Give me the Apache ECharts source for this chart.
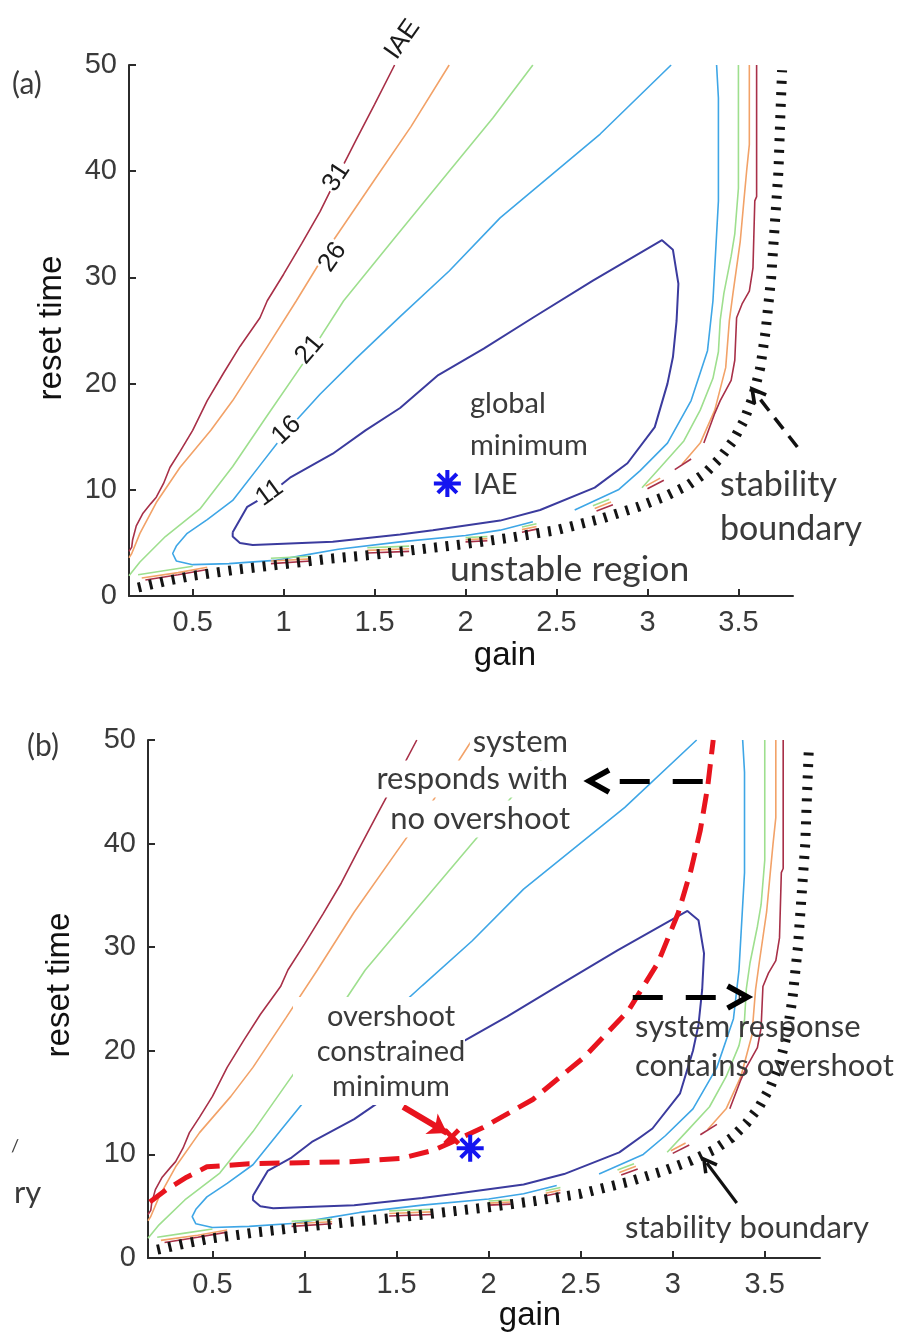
<!DOCTYPE html>
<html>
<head>
<meta charset="utf-8">
<script src="https://cdn.jsdelivr.net/npm/echarts@6/dist/echarts.min.js"></script>
<style>
  html, body { margin: 0; padding: 0; background: #fff; }
  #main { width: 902px; height: 1343px; }
</style>
</head>
<body>
<div id="main"></div>
<script>
// ---------------- data (gain, reset time) ----------------
const gainTicks = [0.5, 1, 1.5, 2, 2.5, 3, 3.5];
const resetTicks = [0, 10, 20, 30, 40, 50];
const iaeLevels = [11, 16, 21, 26, 31];

// IAE = 11 (closed loop around the optimum)
const iae11 = [
  [[0.72,6.0],[0.80,8.4],[0.93,9.7],[1.04,11.2],[1.27,13.4],[1.45,15.6],[1.64,17.7],[1.85,20.8],
   [2.10,23.3],[2.37,26.2],[2.70,29.7],[3.08,33.5],[3.14,32.6],[3.17,29.4],[3.16,25.9],[3.14,22.5],
   [3.11,20.0],[3.04,15.9],[2.89,12.5],[2.71,10.2],[2.41,8.1],[2.19,7.1],[1.82,6.2],[1.64,5.8],
   [1.27,5.1],[0.83,4.8],[0.76,5.0],[0.72,5.6],[0.72,6.0]]
];
// IAE = 16
const iae16 = [
  [[3.13,50],[2.74,43.5],[2.19,35.6],[1.91,30.6],[1.64,26.3],[1.40,22.4],[1.20,19.0],[1.02,15.6],
   [0.87,12.3],[0.72,9.0],[0.58,7.2],[0.47,5.9],[0.41,4.7],[0.39,4.0],[0.41,3.3],[0.50,2.95],
   [0.70,3.05],[0.95,3.35],[1.10,3.8],[1.30,4.4],[1.64,5.1],[2.00,5.7],[2.19,6.2],[2.37,7.0]],
  [[2.60,8.1],[2.84,10.0],[2.96,11.8],[3.11,14.4],[3.24,18.4],[3.33,23.1],[3.36,27.8],[3.39,37.2],
   [3.39,46.9],[3.38,50]]
];
// IAE = 21
const iae21 = [
  [[0.15,1.9],[0.21,3.2],[0.35,5.6],[0.54,8.2],[0.72,12.2],[0.91,17.0],[1.143,22.8],[1.33,27.8],
   [1.60,33.5],[1.91,40.0],[2.15,45.0],[2.37,50]],
  [[0.20,2.0],[0.35,2.4],[0.50,2.8]],
  [[0.93,3.55],[1.15,3.75]],
  [[1.46,4.55],[1.69,4.7]],
  [[2.00,5.5],[2.12,5.6]],
  [[2.31,6.5],[2.39,6.8]],
  [[2.70,8.5],[2.79,9.1]],
  [[2.97,10.2],[3.07,12.1],[3.20,14.6],[3.29,17.5],[3.36,20.5],[3.39,23.0],[3.40,26.0],[3.42,28.5],
   [3.46,32.0],[3.48,34.1],[3.50,38.4],[3.50,50]]
];
// IAE = 26
const iae26 = [
  [[0.15,3.6],[0.165,4.0],[0.21,5.9],[0.30,8.8],[0.43,12.1],[0.60,15.6],[0.72,18.4],[0.90,23.2],
   [1.07,27.8],[1.27,33.4],[1.50,39.2],[1.70,44.2],[1.91,50]],
  [[0.22,1.7],[0.42,2.2],[0.58,2.7]],
  [[0.93,3.3],[1.15,3.5]],
  [[1.46,4.3],[1.69,4.45]],
  [[2.00,5.3],[2.12,5.4]],
  [[2.31,6.25],[2.39,6.55]],
  [[2.71,8.25],[2.80,8.85]],
  [[2.99,10.35],[3.07,11.1]],
  [[3.19,12.4],[3.29,14.4],[3.37,17.5],[3.43,21.5],[3.45,25.9],[3.47,28.5],[3.51,33.4],[3.53,37.2],
   [3.545,40.0],[3.56,42.5],[3.56,50]]
];
// IAE = 31
const iae31 = [
  [[0.15,4.2],[0.165,4.6],[0.17,5.3],[0.19,6.6],[0.227,7.8],[0.27,8.7],[0.30,9.3],[0.34,10.6],
   [0.375,12.1],[0.43,13.6],[0.50,15.6],[0.58,18.4],[0.67,21.0],[0.76,23.5],[0.87,26.2],[0.91,27.8],
   [1.00,30.3],[1.10,33.2],[1.20,36.2],[1.29,39.3],[1.40,43.0],[1.50,46.3],[1.61,50]],
  [[0.24,1.5],[0.42,2.0],[0.58,2.5]],
  [[0.93,3.05],[1.15,3.3]],
  [[1.46,4.05],[1.69,4.2]],
  [[2.00,5.1],[2.12,5.2]],
  [[2.31,6.0],[2.39,6.3]],
  [[2.72,8.0],[2.81,8.6]],
  [[3.00,10.1],[3.09,10.9]],
  [[3.15,11.9],[3.24,12.9]],
  [[3.31,14.4],[3.37,17.2],[3.40,18.4],[3.46,20.3],[3.48,22.2],[3.49,26.2],[3.52,27.5],[3.56,28.7],
   [3.58,30.9],[3.59,37.2],[3.60,37.6],[3.60,50]]
];

// closed-loop stability limit
const stabilityBoundary = [
  [0.20,0.8],[0.35,1.4],[0.50,1.9],[0.75,2.5],[1.00,3.0],[1.25,3.5],[1.50,3.9],[1.75,4.4],[2.00,4.9],
  [2.25,5.5],[2.50,6.2],[2.75,7.3],[2.95,8.4],[3.10,9.4],[3.22,10.4],[3.32,11.6],[3.40,13.0],
  [3.47,14.6],[3.53,16.5],[3.58,18.8],[3.62,21.5],[3.65,25.0],[3.68,30.0],[3.70,35.0],[3.72,40.0],
  [3.73,45.0],[3.74,49.5]
];
// limit between overshoot-free and overshooting responses
const overshootLimit = [
  [0.16,5.4],[0.25,6.6],[0.36,7.8],[0.47,8.8],[0.70,9.1],[0.98,9.2],[1.25,9.3],[1.52,9.6],[1.70,10.4],
  [1.79,11.1],[1.97,12.6],[2.24,15.3],[2.52,19.4],[2.76,23.9],[2.92,28.5],[3.03,33.3],[3.10,37.5],
  [3.15,41.3],[3.19,45.5],[3.22,50]
];
const globalMinimum = [[1.90, 10.6]];
const constrainedMinimum = [[1.80, 11.7]];

// contour label anchors (panel a)
const contourLabels = [
  { text: '31', at: [1.291, 39.45], angle: 57 },
  { text: '26', at: [1.269, 31.9], angle: 55 },
  { text: '21', at: [1.143, 23.2], angle: 50 },
  { text: '16', at: [1.016, 15.6], angle: 43 },
  { text: '11', at: [0.923, 9.7], angle: 36 },
  { text: 'IAE', at: [1.654, 52.4], angle: 55 }
];

// annotation arrows: [panel, from, to]
const dashedArrows = [
  [0, [3.824, 14.03], [3.593, 19.11]],
  [1, [3.163, 46.04], [2.588, 46.04]],
  [1, [2.783, 25.19], [3.364, 25.19]]
];
const solidArrows = [[1, [3.348, 5.31], [3.185, 9.17]]];
const redArrows = [[1, [1.536, 14.58], [1.774, 12.07]]];

// ---------------- styling ----------------
const contourStyle = {
  11: { color: '#3b3b9e', width: 2 },
  16: { color: '#3ea6e6', width: 1.6 },
  21: { color: '#9edf8e', width: 1.6 },
  26: { color: '#f2a268', width: 1.6 },
  31: { color: '#a83048', width: 1.6 }
};
const contours = { 11: iae11, 16: iae16, 21: iae21, 26: iae26, 31: iae31 };

const axisColor = '#2b2b2b';
const tickFont = 'Liberation Sans';
const noteFont = 'Lato';
const chevron = 'path://M0,9 L5,0 L10,9 L8.2,10 L5,4.2 L1.8,10 Z';
const asterisk = 'path://M8.5,0 H11.5 V20 H8.5 Z M0,8.5 H20 V11.5 H0 Z ' +
  'M1.9,4.0 L4.0,1.9 L18.1,16.0 L16.0,18.1 Z M16.0,1.9 L18.1,4.0 L4.0,18.1 L1.9,16.0 Z';
const crossMark = 'path://M2,0 L5,3 L8,0 L10,2 L7,5 L10,8 L8,10 L5,7 L2,10 L0,8 L3,5 L0,2 Z';

const grids = [
  { left: 129, top: 65, width: 664, height: 531, outerBoundsMode: 'none', containLabel: false },
  { left: 148, top: 740, width: 672, height: 518, outerBoundsMode: 'none', containLabel: false }
];

function xAxisFor(i) {
  return {
    gridIndex: i, type: 'value', min: 0.15, max: 3.8,
    axisLine: { show: true, onZero: false, lineStyle: { color: axisColor, width: 2 } },
    axisTick: { show: true, inside: true, length: 7, customValues: gainTicks,
                lineStyle: { color: axisColor, width: 2 } },
    axisLabel: { show: true, customValues: gainTicks, margin: 12, fontFamily: tickFont,
                 fontSize: 29, color: '#3a3a3a' },
    splitLine: { show: false }
  };
}
function yAxisFor(i) {
  return {
    gridIndex: i, type: 'value', min: resetTicks[0], max: resetTicks[resetTicks.length - 1], interval: 10,
    axisLine: { show: true, onZero: false, lineStyle: { color: axisColor, width: 2 } },
    axisTick: { show: true, inside: true, length: 7, lineStyle: { color: axisColor, width: 2 } },
    axisLabel: { show: true, margin: 12, fontFamily: tickFont, fontSize: 29, color: '#3a3a3a' },
    splitLine: { show: false }
  };
}

const series = [];
[0, 1].forEach(p => {
  iaeLevels.forEach(lv => {
    contours[lv].forEach(seg => {
      series.push({
        type: 'line', xAxisIndex: p, yAxisIndex: p, data: seg,
        symbol: 'none', showSymbol: false, smooth: false, silent: true, z: 2,
        lineStyle: { color: contourStyle[lv].color, width: contourStyle[lv].width }
      });
    });
  });
  series.push({
    type: 'line', xAxisIndex: p, yAxisIndex: p, data: stabilityBoundary,
    symbol: 'none', showSymbol: false, silent: true, z: 3,
    lineStyle: { color: '#141414', width: 10, type: [3, 8.5], cap: 'butt' }
  });
  series.push({
    type: 'scatter', xAxisIndex: p, yAxisIndex: p, data: globalMinimum,
    symbol: asterisk, symbolSize: 27, silent: true, z: 6,
    itemStyle: { color: '#1414f0', opacity: 1 }
  });
});
// panel (b): overshoot limit and constrained optimum
series.push({
  type: 'line', xAxisIndex: 1, yAxisIndex: 1, data: overshootLimit,
  symbol: 'none', showSymbol: false, silent: true, z: 4,
  lineStyle: { color: '#e8141e', width: 5, type: [20, 10] }
});
series.push({
  type: 'scatter', xAxisIndex: 1, yAxisIndex: 1, data: constrainedMinimum,
  symbol: crossMark, symbolSize: 17, silent: true, z: 5,
  itemStyle: { color: '#e8141e', opacity: 1 }
});

function arrowSeries(list, style) {
  list.forEach(([p, from, to]) => {
    series.push({
      type: 'lines', coordinateSystem: 'cartesian2d', xAxisIndex: p, yAxisIndex: p,
      clip: false, silent: true, z: 7, polyline: false,
      symbol: ['none', style.head], symbolSize: style.headSize,
      lineStyle: { color: style.color, width: style.width, type: style.type, opacity: 1, curveness: 0 },
      data: [{ coords: [from, to] }]
    });
  });
}
arrowSeries(dashedArrows.filter(a => a[0] === 0), { head: chevron, headSize: 18, color: '#111', width: 3.5, type: [14, 9] });
arrowSeries(dashedArrows.filter(a => a[0] === 1), { head: chevron, headSize: 27, color: '#000', width: 5, type: [30, 23] });
arrowSeries(solidArrows, { head: chevron, headSize: 17, color: '#111', width: 3, type: 'solid' });
arrowSeries(redArrows, { head: 'arrow', headSize: 18, color: '#e8141e', width: 6, type: 'solid' });

const option = {
  backgroundColor: '#ffffff',
  animation: false,
  grid: grids,
  xAxis: [xAxisFor(0), xAxisFor(1)],
  yAxis: [yAxisFor(0), yAxisFor(1)],
  series: series
};

const chart = echarts.init(document.getElementById('main'), null, { renderer: 'canvas' });
chart.setOption(option);

// ---------------- text annotations ----------------
function txt(x, y, s, o) {
  o = o || {};
  const style = {
    text: s,
    font: (o.weight || 'normal') + ' ' + (o.size || 30) + 'px "' + (o.family || noteFont) + '"',
    fill: o.color || '#3a3a3a',
    align: o.align || 'left', textAlign: o.align || 'left',
    verticalAlign: 'middle', textVerticalAlign: 'middle'
  };
  if (o.bg) { style.backgroundColor = o.bg; style.padding = o.pad || [2, 3]; }
  return { type: 'text', x: x, y: y, rotation: (o.rot || 0) * Math.PI / 180, z: o.z || 100, silent: true, style: style };
}

const graphics = [];
// panel labels
graphics.push(txt(12, 84, '(a)', { size: 30 }));
graphics.push(txt(27, 746, '(b)', { size: 30 }));
// axis titles
graphics.push(txt(52, 328, 'reset time', { family: tickFont, size: 33, rot: 90, align: 'center', color: '#111' }));
graphics.push(txt(505, 656, 'gain', { family: tickFont, size: 33, align: 'center', color: '#111' }));
graphics.push(txt(60, 985, 'reset time', { family: tickFont, size: 33, rot: 90, align: 'center', color: '#111' }));
graphics.push(txt(530, 1316, 'gain', { family: tickFont, size: 33, align: 'center', color: '#111' }));

// contour labels (panel a)
contourLabels.forEach(l => {
  const pt = chart.convertToPixel({ gridIndex: 0 }, l.at);
  graphics.push(txt(pt[0], pt[1], l.text, {
    family: tickFont, size: 26, rot: l.angle, align: 'center', color: '#1a1a1a',
    bg: l.text === 'IAE' ? null : '#ffffff', pad: [0, 1]
  }));
});

// panel (a) notes
graphics.push(txt(470, 404, 'global', { size: 29 }));
graphics.push(txt(470, 446, 'minimum', { size: 29 }));
graphics.push(txt(473, 485, 'IAE', { size: 29 }));
graphics.push(txt(720, 485, 'stability', { size: 34 }));
graphics.push(txt(720, 529, 'boundary', { size: 34 }));
graphics.push(txt(450, 570, 'unstable region', { size: 35.5 }));

// panel (b) notes
graphics.push(txt(571, 742, 'system', { size: 31, align: 'right', bg: '#ffffff', pad: [3, 3] }));
graphics.push(txt(571, 779, 'responds with', { size: 31, align: 'right', bg: '#ffffff', pad: [3, 3] }));
graphics.push(txt(573, 819, 'no overshoot', { size: 31, align: 'right', bg: '#ffffff', pad: [3, 3] }));
graphics.push({ type: 'rect', z: 99, silent: true, shape: { x: 293, y: 997, width: 172, height: 108 },
                style: { fill: '#ffffff' } });
graphics.push(txt(391, 1017, 'overshoot', { size: 29, align: 'center' }));
graphics.push(txt(391, 1052, 'constrained', { size: 29, align: 'center' }));
graphics.push(txt(391, 1087, 'minimum', { size: 29, align: 'center' }));
graphics.push(txt(635, 1027, 'system response', { size: 31 }));
graphics.push(txt(635, 1066, 'contains overshoot', { size: 31 }));
graphics.push(txt(625, 1228, 'stability boundary', { size: 31 }));
graphics.push(txt(14, 1193, 'ry', { size: 31 }));
graphics.push(txt(11, 1146, '/', { size: 18, color: '#444' }));

chart.setOption({ graphic: graphics });
</script>
</body>
</html>
